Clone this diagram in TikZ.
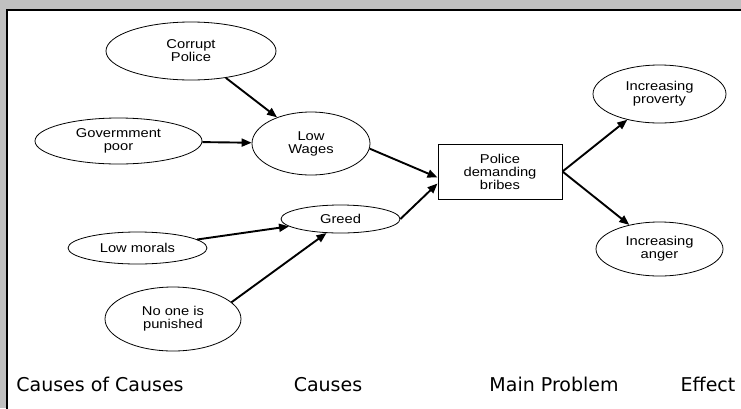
\documentclass[tikz,border=0pt]{standalone}
\usepackage{fontspec}
\setmainfont{Liberation Sans}
\newfontfamily\causefont[FakeStretch=1.15]{Liberation Sans}
\newfontfamily\headfont{DejaVu Sans}
\usetikzlibrary{arrows.meta}
\usetikzlibrary{shapes.geometric}
\definecolor{framegray}{RGB}{192,192,192}
\tikzset{
	every path/.style = {line width=1.9pt},
	cause/.style = {draw, ellipse, line width=0.8pt, inner sep=0pt, align=center, fill=white,
		font=\causefont\fontsize{12.8}{13}\selectfont},
	problem/.style = {draw, rectangle, line width=1pt, inner sep=0pt, align=center,
		font=\causefont\fontsize{12.8}{13}\selectfont},
	heading/.style = {anchor=base, font=\headfont\fontsize{19}{22}\selectfont}
}

\begin{document}
\begin{tikzpicture}[x=1pt, y=-1pt, -{Triangle[length=10pt,width=8pt]}]
	\useasboundingbox (0,0) rectangle (741,408);
	\fill[framegray] (0,0) rectangle (741,408);
	\filldraw[-, fill=white, draw=black, line width=2pt] (7,10) rectangle (760,430);

	\node (corrupt) [cause, minimum width=170pt, minimum height=58pt] at (191,51) {Corrupt\\Police};
	\node (gov) [cause, minimum width=167pt, minimum height=46pt] at (118.5,141) {Govermment\\poor};
	\node (wages) [cause, minimum width=118pt, minimum height=63pt] at (311,143.5) {Low\\Wages};
	\node (greed) [cause, minimum width=119pt, minimum height=28pt] at (340.5,219) {Greed};
	\node (morals) [cause, minimum width=139pt, minimum height=32pt] at (137.5,248) {Low morals};
	\node (punished) [cause, minimum width=136pt, minimum height=64pt] at (173,319) {No one is\\punished};
	\node (bribes) [problem, minimum width=124pt, minimum height=55pt] at (500,171.5) {Police\\demanding\\bribes};
	\node (poverty) [cause, minimum width=133pt, minimum height=58pt] at (659.5,94) {Increasing\\proverty};
	\node (anger) [cause, minimum width=127pt, minimum height=54pt] at (659.5,249) {Increasing\\anger};

	\draw (corrupt) -- (wages);
	\draw (gov) -- (wages);
	\draw (morals) -- (greed);
	\draw (punished.16) -- (greed.225);
	\draw (wages.-5) -- ([yshift=-6pt]bribes.west);
	\draw (greed.east) -- ([yshift=-12pt]bribes.west);
	\draw (bribes.east) -- (poverty);
	\draw (bribes.east) -- (anger);

	\node (hcc) [heading] at (100,391) {Causes of Causes};
	\node (hc) [heading] at (328,391) {Causes};
	\node (hmp) [heading] at (554,391) {Main Problem};
	\node (he) [heading] at (708,391) {Effect};
\end{tikzpicture}
\end{document}
